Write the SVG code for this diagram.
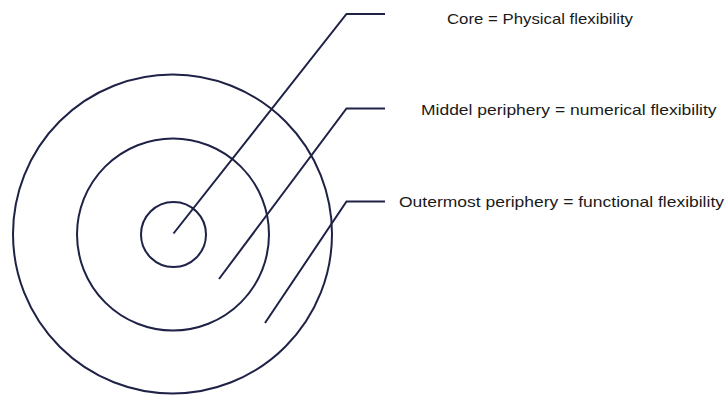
<svg xmlns="http://www.w3.org/2000/svg" width="728" height="396" viewBox="0 0 728 396">
<style>
.ring{fill:none;stroke:#1f2247;stroke-width:2}
.conn{fill:none;stroke:#1f2247;stroke-width:2;stroke-linejoin:miter}
.lbl{font-family:"Liberation Sans",Arial,sans-serif;font-size:15px;fill:#1a1a1a}
</style>
<rect width="728" height="396" fill="#ffffff"/>
<g id="outer"><circle class="ring" cx="172.5" cy="234" r="159.5"/></g>
<g id="middle"><circle class="ring" cx="173" cy="234.5" r="96"/></g>
<g id="core"><circle class="ring" cx="173.5" cy="234.5" r="32.5"/></g>
<g id="connectors">
<polyline class="conn" points="173.5,233.5 346.5,14 385,14"/>
<polyline class="conn" points="219,279 346.5,108.5 385,108.5"/>
<polyline class="conn" points="265,323 346.5,201.5 385,201.5"/>
</g>
<g id="label-core"><text class="lbl" x="447" y="23.5" textLength="186" lengthAdjust="spacingAndGlyphs">Core = Physical flexibility</text></g>
<g id="label-middle"><text class="lbl" x="421" y="114.5" textLength="295.5" lengthAdjust="spacingAndGlyphs">Middel periphery = numerical flexibility</text></g>
<g id="label-outer"><text class="lbl" x="399" y="207" textLength="325" lengthAdjust="spacingAndGlyphs">Outermost periphery = functional flexibility</text></g>
</svg>
